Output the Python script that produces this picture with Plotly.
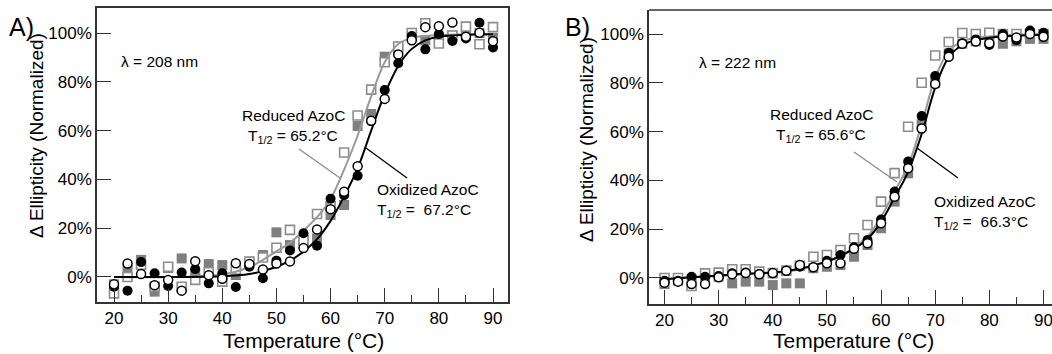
import plotly.graph_objects as go

W, H = 1052, 354
FONT = "Liberation Sans, Arial, sans-serif"

# ---------------- data ----------------
temps = [20, 22.5, 25, 27.5, 30, 32.5, 35, 37.5, 40, 42.5, 45, 47.5, 50, 52.5, 55,
         57.5, 60, 62.5, 65, 67.5, 70, 72.5, 75, 77.5, 80, 82.5, 85, 87.5, 90]

# Panel A (lambda = 208 nm)
a_red1 = [-3, 2.9, 7, -6, 3.7, 7.6, 1.6, 5.3, 4.9, 0.8, 5.6, 9, 18.3, 13.1, 15,
          15.8, 25.4, 29.5, 61.9, 66.8, 90.3, 93, 99.2, 97, 98, 99, 99, 100, 98]
a_red2 = [-6.7, 0, 5, -4, 4.2, -4, -1.2, 2, -1.9, 3, 6.3, 8, 12, 19.3, 15,
          25.8, 29, 51, 66.2, 76.8, 88, 94.5, 100, 104, 95.7, 99, 102.6, 95.4, 102.4]
a_ox1 = [-4, -5.6, 6.1, 1.5, -3.7, 1.8, 3.3, -2.6, 1.5, -4.1, 4.2, -0.5, 6.7, 10.9, 17.9,
         12.8, 32.1, 33.5, 41.5, 63.9, 76.6, 87.6, 98.8, 93.3, 99.6, 96.7, 97.8, 104.2, 94.1]
a_ox2 = [-3, 5.5, 1.2, -3.4, -1.2, -5.6, 6.5, 0.7, -0.7, 5.6, 5.3, 3.1, 5.5, 6.4, 11.9,
         19.5, 27.8, 34.9, 45.4, 64, 73, 91.2, 97, 102.4, 102.8, 104.3, 98.5, 100.1, 96.6]

a_fit_t = [20, 30, 40, 45, 47.5, 50, 52.5, 55, 57.5, 60, 62.5, 65, 67.5, 70, 72.5, 75, 77.5, 80, 85, 90]
a_fit_red = [0, 0, 1, 4, 7, 10.5, 14, 19, 24.5, 32, 44, 58, 74, 88, 95.5, 98, 98.8, 99.2, 99.5, 99.5]
a_fit_ox = [0, 0, 0.3, 1.2, 2.5, 4.2, 6.7, 10.4, 15.5, 23, 33, 44.5, 60, 75, 86.5, 93.5, 97, 98.5, 99.3, 99.5]

# Panel B (lambda = 222 nm)
b_red1 = [-2.5, -1.1, -0.5, 0, 0.5, -2.2, -1.5, -1.5, -2.9, -2.2, -2.2, 4, 4.6, 5.3, 8.7,
          13.5, 20.4, 31.3, 42.9, 63, 80, 92, 96, 97, 97, 96, 97, 98, 98]
b_red2 = [0, 0, -3.3, 1.9, 2.2, 3.6, 3.6, 2.6, 2, 3, 5, 8.7, 9.4, 11.5, 16.3,
          21.7, 31.3, 43, 62, 80, 91.2, 96.7, 100.4, 100, 100.5, 100, 100, 100, 100]
b_ox1 = [-1.1, -1.1, 0.5, 0.5, 0.8, 1.9, 2.2, 1.6, 1.9, 3, 4.6, 4.4, 7.1, 9.4, 12.6,
         15.6, 24, 35.4, 47.7, 66.4, 82.8, 92.3, 96.2, 97.8, 95.5, 100, 97.5, 101.4, 100.5]
b_ox2 = [-1.9, -1.5, -2.5, -2.5, 0.3, 1.5, 2, 1.5, 2, 3, 5.3, 4.4, 6, 6, 12,
         14.2, 22.4, 33.3, 45, 61.3, 79.5, 90.7, 96, 96.9, 96.2, 99, 98.6, 100, 98.9]

b_fit_t = [20, 25, 30, 35, 40, 45, 50, 52.5, 55, 57.5, 60, 62.5, 65, 67.5, 70, 72.5, 75, 77.5, 80, 85, 90]
b_fit_red = [-0.5, 0.3, 0.8, 1.5, 2, 3.5, 6.5, 9, 12.5, 17, 25, 35.5, 46, 63, 82, 93, 97, 98.5, 99, 99.7, 100]
b_fit_ox = [-0.5, 0.3, 1, 1.8, 2.3, 3.8, 6.8, 9, 12, 16, 23, 33, 43.5, 59, 78, 90.5, 95.5, 97.5, 98.5, 99.3, 99.7]

y_ticks = [0, 20, 40, 60, 80, 100]
y_tick_labels = ["0%", "20%", "40%", "60%", "80%", "100%"]
x_ticks = [20, 30, 40, 50, 60, 70, 80, 90]
x_minor_ticks = [25, 35, 45, 55, 65, 75, 85]

GRAY_FILL = "#7f7f7f"
GRAY_LINE = "#8c8c8c"
GRAY_CURVE = "#999999"

fig = go.Figure()


def add_panel(xa, ya, red1, red2, ox1, ox2, fit_t, fit_red, fit_ox):
    kw = dict(xaxis=xa, yaxis=ya, showlegend=False, hoverinfo="skip")
    fig.add_trace(go.Scatter(x=temps, y=red1, mode="markers",
                             marker=dict(symbol="square", size=10, color=GRAY_FILL, line=dict(width=0)), **kw))
    fig.add_trace(go.Scatter(x=temps, y=red2, mode="markers",
                             marker=dict(symbol="square", size=9, color="white",
                                         line=dict(width=1.6, color=GRAY_LINE)), **kw))
    fig.add_trace(go.Scatter(x=fit_t, y=fit_red, mode="lines",
                             line=dict(color=GRAY_CURVE, width=2, shape="spline", smoothing=1.0), **kw))
    fig.add_trace(go.Scatter(x=fit_t, y=fit_ox, mode="lines",
                             line=dict(color="black", width=2, shape="spline", smoothing=1.0), **kw))
    fig.add_trace(go.Scatter(x=temps, y=ox1, mode="markers",
                             marker=dict(symbol="circle", size=10, color="black", line=dict(width=0)), **kw))
    fig.add_trace(go.Scatter(x=temps, y=ox2, mode="markers",
                             marker=dict(symbol="circle", size=9, color="white",
                                         line=dict(width=1.5, color="black")), **kw))


add_panel("x", "y", a_red1, a_red2, a_ox1, a_ox2, a_fit_t, a_fit_red, a_fit_ox)
add_panel("x2", "y2", b_red1, b_red2, b_ox1, b_ox2, b_fit_t, b_fit_red, b_fit_ox)


def px(x, y):
    return x / W, 1 - y / H


AXCOL = "#333333"
tickfont = dict(family=FONT, size=17, color="black")


def xaxis(domain, rng, mirror, anchor):
    return dict(domain=domain, range=rng, anchor=anchor, showgrid=False, zeroline=False,
                showline=True, linecolor=AXCOL, linewidth=1.5, mirror=mirror,
                ticks="inside", ticklen=14, tickwidth=1.2, tickcolor=AXCOL,
                tickmode="array", tickvals=x_ticks, ticktext=[str(v) for v in x_ticks],
                tickfont=tickfont, ticklabeloverflow="allow",
                minor=dict(ticks="inside", ticklen=7, tickwidth=1.2, tickcolor=AXCOL,
                           tickvals=x_minor_ticks),
                fixedrange=True)


def yaxis(domain, rng, mirror, anchor):
    return dict(domain=domain, range=rng, showgrid=False, zeroline=False, anchor=anchor,
                showline=True, linecolor=AXCOL, linewidth=1.5, mirror=mirror,
                ticks="inside", ticklen=14, tickwidth=1.2, tickcolor=AXCOL,
                tickmode="array", tickvals=y_ticks, ticktext=y_tick_labels,
                tickfont=tickfont, ticklabeloverflow="allow", fixedrange=True)


fig.update_layout(
    width=W, height=H, margin=dict(l=0, r=0, t=0, b=0),
    paper_bgcolor="white", plot_bgcolor="white",
    font=dict(family=FONT, color="black"),
    xaxis=xaxis([97 / W, 508 / W], [16.86, 92.77], True, "y"),
    yaxis=yaxis([52 / H, 346 / H], [-10.25, 110.25], True, "x"),
    xaxis2=xaxis([649 / W, 1.0], [17.14, 91.57], False, "y2"),
    yaxis2=yaxis([50 / H, 344 / H], [-10.66, 109.84], False, "x2"),
)

# top border of panel B (right side lies beyond the window)
x0, y0 = px(649, 10)
fig.add_shape(type="line", xref="paper", yref="paper", x0=x0, x1=1.02, y0=y0, y1=y0,
              line=dict(color=AXCOL, width=1.5))


def leader(x1, y1, x2, y2, color):
    a, b = px(x1, y1)
    c, d = px(x2, y2)
    fig.add_shape(type="line", xref="paper", yref="paper", x0=a, y0=b, x1=c, y1=d,
                  line=dict(color=color, width=1.3))


leader(299, 149, 340, 178, GRAY_LINE)
leader(366, 148, 407, 178, "black")
leader(854, 152, 897, 182, GRAY_LINE)
leader(917, 148, 958, 178, "black")


def text(x, y, s, size=15.5, xanchor="left", angle=0):
    a, b = px(x, y)
    fig.add_annotation(xref="paper", yref="paper", x=a, y=b, text=s, showarrow=False,
                       xanchor=xanchor, yanchor="middle", textangle=angle,
                       font=dict(family=FONT, size=size, color="black"))


NB = "\u00a0"
# panel A
text(21, 27, "A)", size=25, xanchor="center")
text(119, 61, "λ = 208 nm")
text(293, 116, "Reduced AzoC", xanchor="center")
text(293, 136, "T<sub>1/2</sub> = 65.2°C", xanchor="center")
text(375, 189, "Oxidized AzoC")
text(375, 210, "T<sub>1/2</sub> =" + NB + " 67.2°C")
text(303, 340, "Temperature (°C)", size=21, xanchor="center")
text(36, 136, "Δ Ellipticity (Normalized)", size=19, xanchor="center", angle=-90)

# panel B
text(577, 27, "B)", size=25, xanchor="center")
text(697, 63, "λ = 222 nm")
text(821, 115, "Reduced AzoC", xanchor="center")
text(821, 135, "T<sub>1/2</sub> = 65.6°C", xanchor="center")
text(932, 201, "Oxidized AzoC")
text(932, 222, "T<sub>1/2</sub> =" + NB + " 66.3°C")
text(853, 340, "Temperature (°C)", size=21, xanchor="center")
text(586, 140, "Δ Ellipticity (Normalized)", size=19, xanchor="center", angle=-90)

fig.write_html("out.html")
